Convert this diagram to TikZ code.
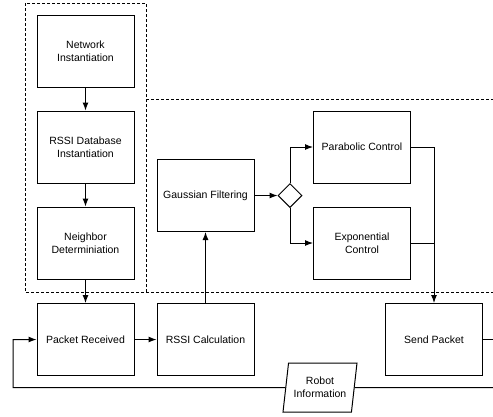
\documentclass[tikz,border=0pt]{standalone}
\usepackage{fontspec}
\setmainfont{Liberation Sans}
\usetikzlibrary{arrows.meta,shapes.geometric}

\begin{document}
\begin{tikzpicture}[x=1pt,y=-1pt,line width=1pt,
  blk/.style={draw,rectangle,minimum width=97pt,minimum height=72pt,align=center,inner sep=1pt},
  dec/.style={draw,diamond,minimum width=24pt,minimum height=24pt,inner sep=0pt},
  io/.style={draw,trapezium,trapezium left angle=75,trapezium right angle=105,
    trapezium stretches body,minimum width=74pt,minimum height=49pt,inner sep=0pt,align=center},
  arr/.style={-{Latex[length=8pt,width=6pt]}},
  grp/.style={dash pattern=on 3pt off 2pt},
  every node/.style={font=\fontsize{10.5}{13}\selectfont}]
         \useasboundingbox (0,0) rectangle (493,416);
         \node[blk] (net) at (85.5,51) {Network\\Instantiation};
         \node[blk] (db) at (85.5,147) {RSSI Database\\Instantiation};
         \node[blk] (nbr) at (85.5,243) {Neighbor\\Determiniation};
         \node[blk] (recv) at (85.5,339.5) {Packet Received};
         \node[blk] (calc) at (205.5,339.5) {RSSI Calculation};
         \node[blk] (gauss) at (205.5,195.5) {Gaussian Filtering};
         \node[dec] (dia) at (290,195.5) {};
         \node[blk] (para) at (362,147) {Parabolic Control};
         \node[blk] (expo) at (362,243) {Exponential\\Control};
         \node[blk] (send) at (434,339.5) {Send Packet};
         \node[io] (robot) at (320,387.5) {Robot\\Information};
         \coordinate (mrg) at (send.north |- para.east);
         \coordinate (out) at (493,339.5);
         \coordinate (back) at (493,387.5);
         \coordinate (lft) at (13,387.5);
         \draw[grp] (25,3) rectangle (146,292);
         \draw[grp] (146,99) -- (493,99) (146,292) -- (493,292);
         \draw[arr] (net) -- (db);
         \draw[arr] (db) -- (nbr);
         \draw[arr] (nbr) -- (recv);
         \draw[arr] (recv) -- (calc);
         \draw[arr] (calc) -- (gauss);
         \draw[arr] (gauss) -- (dia);
         \draw[arr] (dia.north) |- (para.west);
         \draw[arr] (dia.south) |- (expo.west);
         \draw[arr] (para.east) -- (mrg) -- (send.north);
         \draw (expo.east) -- (expo.east -| mrg);
         \draw (send.east) -- (out);
         \draw (back) -- (robot.east);
         \draw[arr] (robot.west) -- (lft) |- (recv.west);
\end{tikzpicture}
\end{document}
